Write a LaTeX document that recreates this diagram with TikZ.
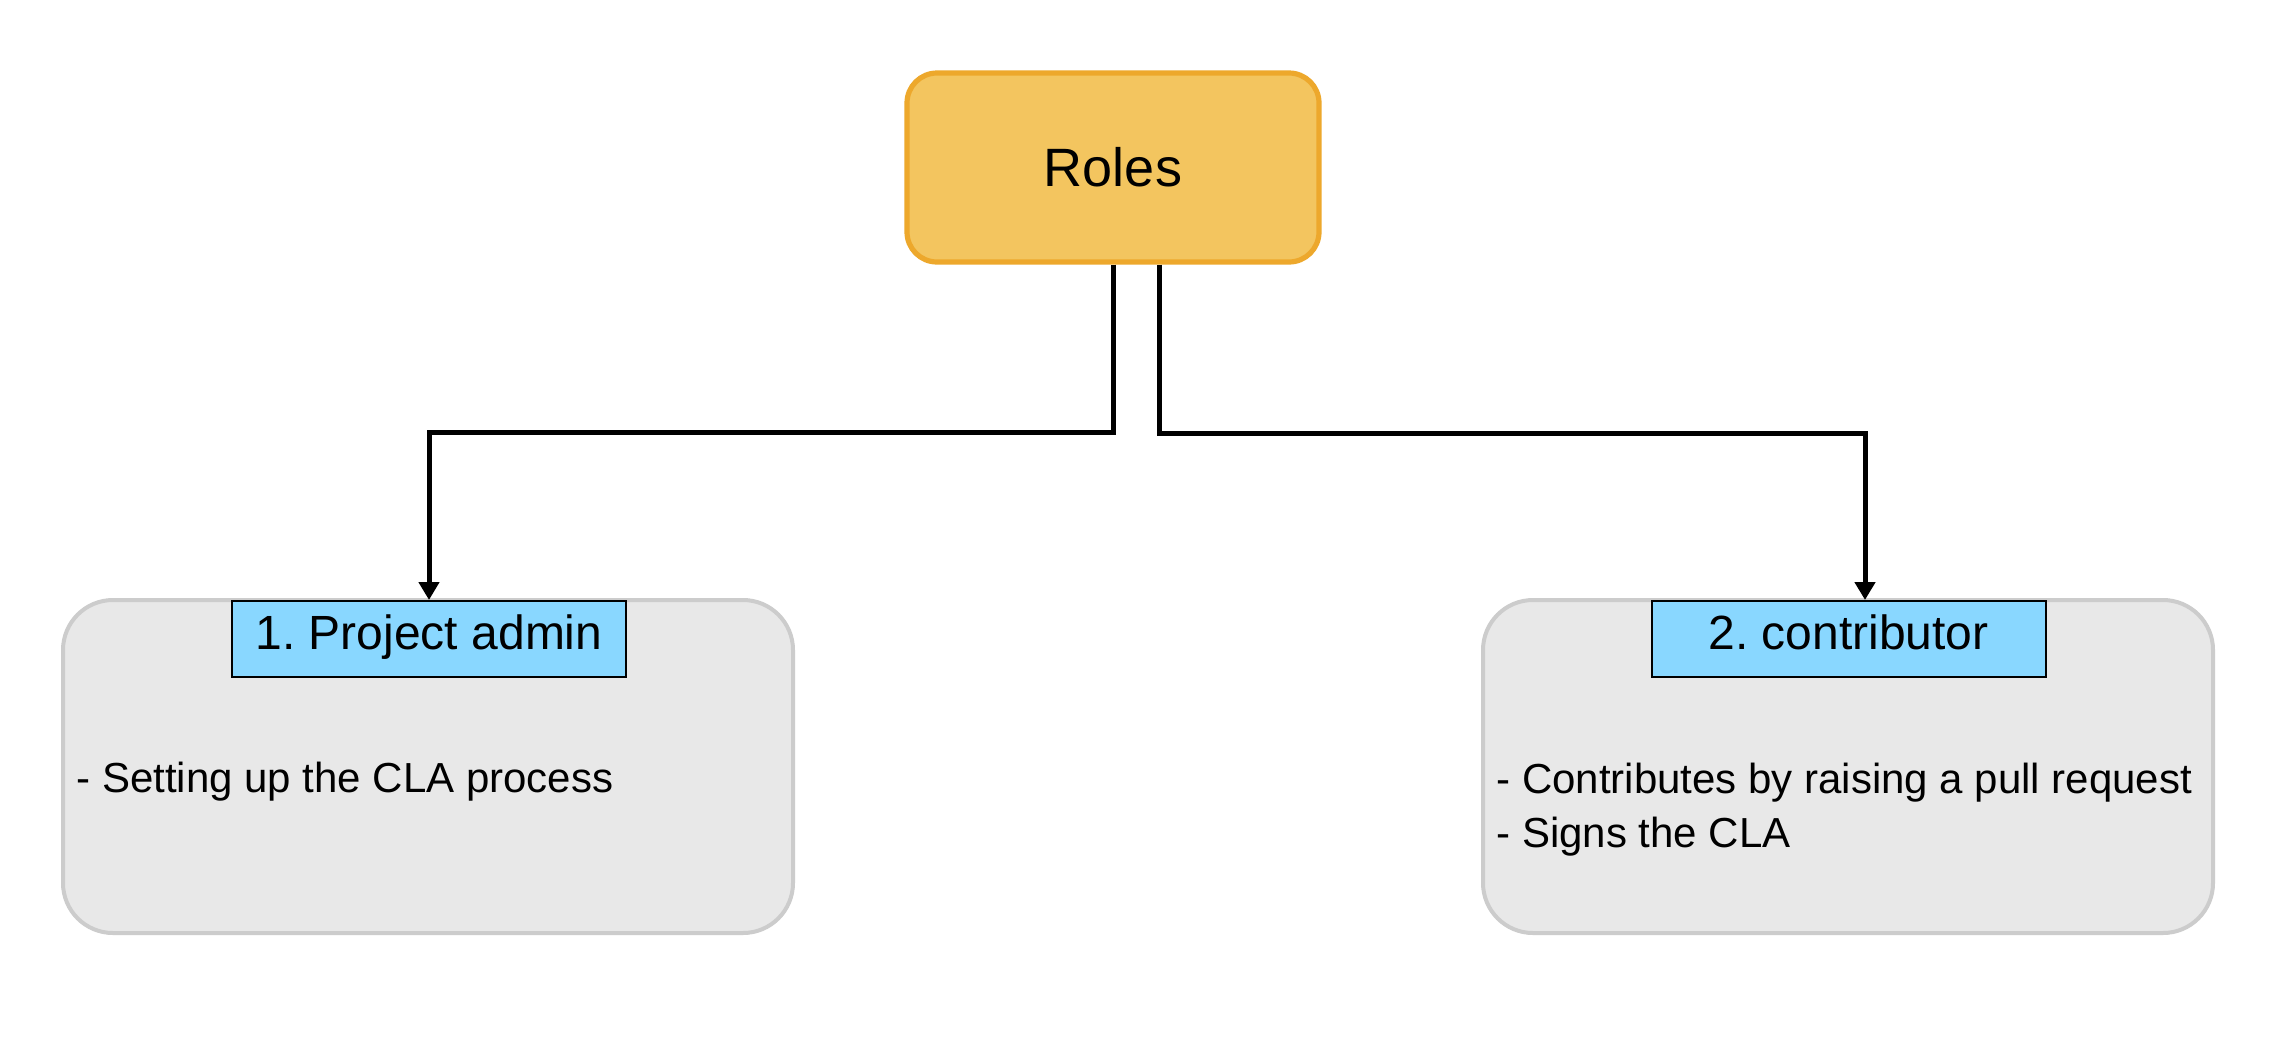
\documentclass[tikz,border=0pt]{standalone}
\usepackage{fontspec}
\setmainfont{Liberation Sans}
\usetikzlibrary{arrows.meta}
\definecolor{rolesfill}{HTML}{F3C55F}
\definecolor{rolesdraw}{HTML}{EDA82C}
\definecolor{grayfill}{HTML}{E8E8E8}
\definecolor{graydraw}{HTML}{CCCCCC}
\definecolor{bluefill}{HTML}{89D7FF}
\frenchspacing
\tikzset{
  rolebox/.style={draw=rolesdraw, fill=rolesfill, line width=2.6pt, rounded corners=15pt,
    minimum width=206pt, minimum height=94.5pt, inner sep=0pt,
    font=\fontsize{27}{31}\selectfont},
  graybox/.style={draw=graydraw, fill=grayfill, line width=2pt, rounded corners=25pt,
    minimum width=365pt, minimum height=166.5pt, inner sep=0pt},
  bluelabel/.style={draw=black, fill=bluefill, line width=1pt, minimum width=197pt,
    inner sep=0pt, text height=24pt, text depth=14pt,
    font=\fontsize{24}{28}\selectfont},
  desc/.style={anchor=base west, inner sep=0pt, font=\fontsize{21}{27}\selectfont},
  conn/.style={line width=2.5pt, -{Triangle[width=10pt,length=9pt]}}
}
\begin{document}
\begin{tikzpicture}[x=0.5pt,y=-0.5pt]
\useasboundingbox[fill=white] (0,0) rectangle (2276,1040);
\node[rolebox] (roles) at (1113,167.5) {Roles};
\node[graybox] (box1) at (428,766.5) {};
\node[graybox] (box2) at (1848,766.5) {};
\node[bluelabel, anchor=north] (lab1) at (429,600) {1. Project admin};
\node[bluelabel, anchor=north] (lab2) at (1848.5,600) {2. contributor};
\node[desc] (d1) at (76,792) {- Setting up the CLA process};
\node[desc] (d2a) at (1496,793) {- Contributes by raising a pull request};
\node[desc] (d2b) at (1496,847) {- Signs the CLA};
\coordinate (t2) at ([xshift=8.25pt]lab2.north);
\coordinate (s2) at ([xshift=23pt]roles.south);
\draw[conn] (roles.south) -- (roles.south |- 0,432) -| (lab1.north);
\draw[conn] (s2) -- (s2 |- 0,433) -| (t2);
\end{tikzpicture}
\end{document}
